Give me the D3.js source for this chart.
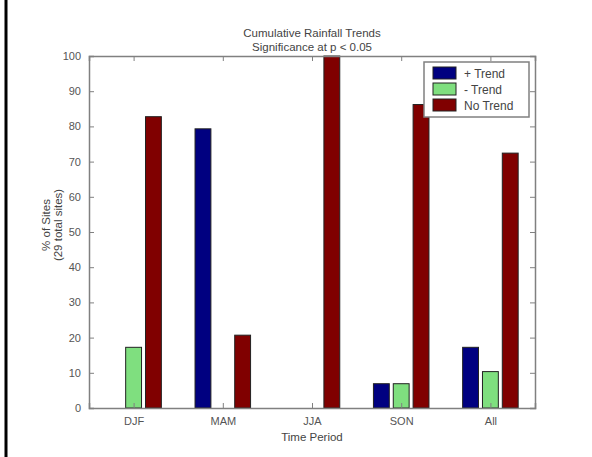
<!DOCTYPE html>
<html>
<head>
<meta charset="utf-8">
<script src="https://cdn.jsdelivr.net/npm/d3@7"></script>
<style>
  body { margin: 0; background: #fff; }
  svg { display: block; }
  text { font-family: "Liberation Sans", Arial, sans-serif; fill: #444; }
</style>
</head>
<body>
<svg width="592" height="457"></svg>
<script>
// chart data (29 sites, so values are n/29)
var periods = ["DJF", "MAM", "JJA", "SON", "All"];
var seriesNames = ["+ Trend", "- Trend", "No Trend"];
var plusTrend = [0, 79.31, 0, 6.9, 17.24];
var minusTrend = [17.24, 0, 0, 6.9, 10.34];
var noTrend = [82.76, 20.69, 100, 86.21, 72.41];
var yTicks = [0, 10, 20, 30, 40, 50, 60, 70, 80, 90, 100];
var colors = ["#000080", "#7fdf7f", "#800000"];

window.onload = function(){ drawChart() }
function drawChart() {
    var svg = d3.select("svg");
    var series = [plusTrend, minusTrend, noTrend];

    var left = 89, right = 535, top = 56, bottom = 408;

    // x uses MATLAB-style category positions 1..5 with limits 0.5..5.5
    var x = d3.scaleLinear().domain([0.5, periods.length + 0.5]).range([left, right]);
    var y = d3.scaleLinear().domain([0, 100]).range([bottom, top]);

    var groupWidth = 0.667, barW = groupWidth / 3 * 0.8;

    // left border line of the figure
    svg.append("line")
        .attr("x1", 6).attr("x2", 6).attr("y1", 0).attr("y2", 457)
        .attr("stroke", "#000").attr("stroke-width", 3);

    // bars (zero-height bars are skipped, as in the picture)
    series.forEach(function(vals, s) {
        var pts = vals.map(function(v, i) { return { v: v, i: i }; })
            .filter(function(d) { return d.v > 0; });
        svg.append("g").selectAll("rect")
            .data(pts)
            .enter().append("rect")
            .attr("x", function(d) { return x(d.i + 1 + (s - 1) * groupWidth / 3 - barW / 2); })
            .attr("width", x(barW) - x(0))
            .attr("y", function(d) { return y(d.v); })
            .attr("height", function(d) { return y(0) - y(d.v); })
            .attr("fill", colors[s])
            .attr("stroke", "#222")
            .attr("stroke-width", 1);
    });

    // axes box
    var axisColor = "#808080";
    var yAxisL = d3.axisLeft(y).tickValues(yTicks).tickSize(-5).tickPadding(8);
    var yAxisR = d3.axisRight(y).tickValues(yTicks).tickSize(-5).tickFormat("");
    var xAxisB = d3.axisBottom(x).tickValues(d3.range(1, periods.length + 1)).tickSize(-5).tickPadding(9)
        .tickFormat(function(d) { return periods[d - 1]; });
    var xAxisT = d3.axisTop(x).tickValues(d3.range(1, periods.length + 1)).tickSize(-5).tickFormat("");

    var gl = svg.append("g").attr("transform", "translate(" + left + ",0)").call(yAxisL);
    var gr = svg.append("g").attr("transform", "translate(" + right + ",0)").call(yAxisR);
    var gb = svg.append("g").attr("transform", "translate(0," + bottom + ")").call(xAxisB);
    var gt = svg.append("g").attr("transform", "translate(0," + top + ")").call(xAxisT);
    [gl, gr, gb, gt].forEach(function(g) {
        g.selectAll("path").attr("stroke", axisColor).attr("stroke-width", 1.5);
        g.selectAll("line").attr("stroke", axisColor);
        g.selectAll("text").attr("font-size", 11).style("fill", "#555")
            .attr("font-family", "Liberation Sans, Arial, sans-serif");
    });

    // title
    svg.append("text").attr("x", (left + right) / 2).attr("y", 37)
        .attr("text-anchor", "middle").attr("font-size", 11.5)
        .text("Cumulative Rainfall Trends");
    svg.append("text").attr("x", (left + right) / 2).attr("y", 51)
        .attr("text-anchor", "middle").attr("font-size", 11.5)
        .text("Significance at p < 0.05");

    // axis labels
    svg.append("text").attr("x", (left + right) / 2).attr("y", 441)
        .attr("text-anchor", "middle").attr("font-size", 11.5)
        .text("Time Period");
    svg.append("text").attr("transform", "translate(50,225) rotate(-90)")
        .attr("text-anchor", "middle").attr("font-size", 11.5)
        .text("% of Sites");
    svg.append("text").attr("transform", "translate(62,225) rotate(-90)")
        .attr("text-anchor", "middle").attr("font-size", 11.5)
        .text("(29 total sites)");

    // legend
    var legend = svg.append("g");
    legend.append("rect")
        .attr("x", 424).attr("y", 62).attr("width", 105).attr("height", 55)
        .attr("fill", "#fff").attr("stroke", axisColor).attr("stroke-width", 1.5);
    var items = legend.selectAll("g.item")
        .data(seriesNames)
        .enter().append("g")
        .attr("class", "item")
        .attr("transform", function(d, i) { return "translate(433," + (67 + i * 16) + ")"; });
    items.append("rect")
        .attr("width", 23).attr("height", 12)
        .attr("fill", function(d, i) { return colors[i]; })
        .attr("stroke", "#222");
    items.append("text")
        .attr("x", 31).attr("y", 11)
        .attr("font-size", 12)
        .text(function(d) { return d; });
}
</script>
</body>
</html>
